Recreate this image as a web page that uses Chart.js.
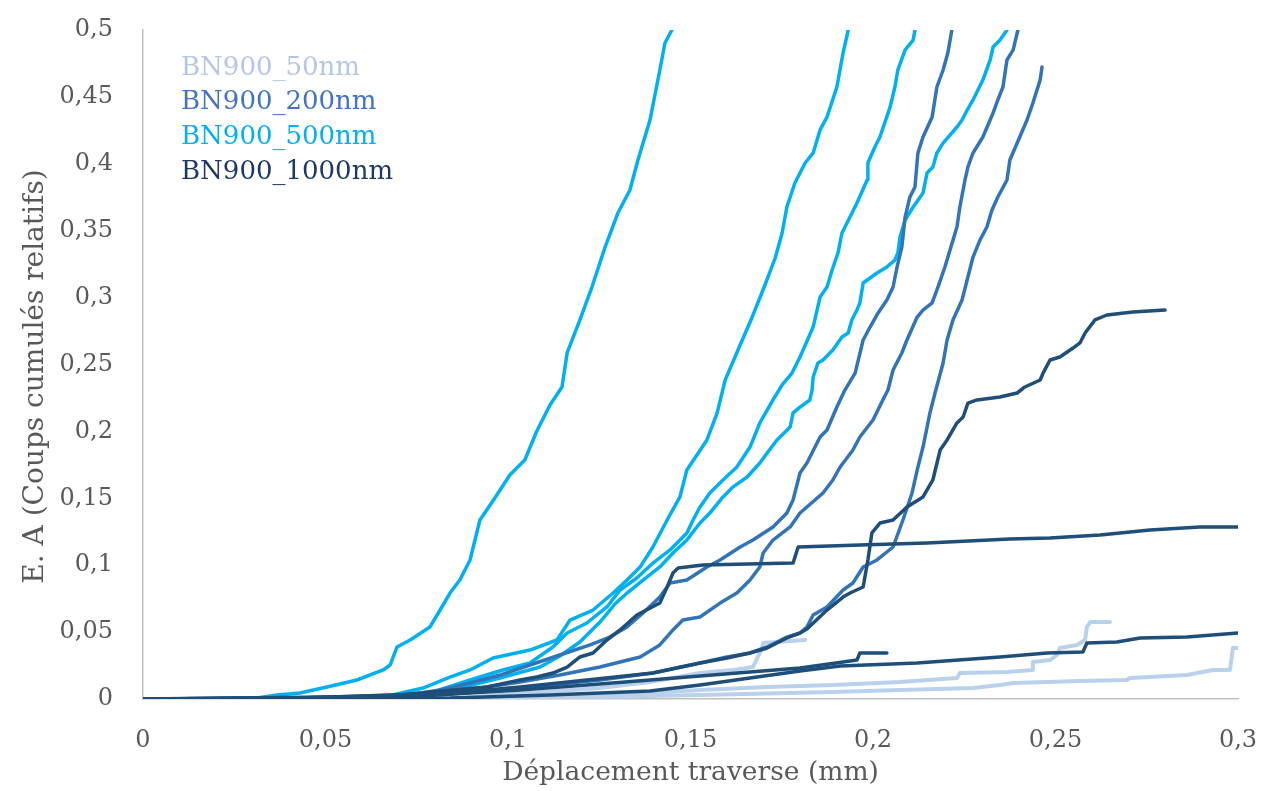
<!DOCTYPE html>
<html><head><meta charset="utf-8">
<script src="https://cdn.jsdelivr.net/npm/chart.js@4.4.1/dist/chart.umd.min.js"></script>
<style>html,body{margin:0;padding:0;background:#fff;}canvas{display:block;}</style>
</head><body>
<canvas id="c" width="1284" height="791"></canvas>
<script>
// ---- Series names & colours ----
const seriesNames = ['BN900_50nm', 'BN900_200nm', 'BN900_500nm', 'BN900_1000nm'];
const seriesColors = ['#bad1ec', '#3174b7', '#00b0f0', '#1f4e79'];
const legendColors = ['#b4c7e7', '#4472c4', '#00b0f0', '#1f3864'];
const xTitle = 'Déplacement traverse (mm)';
const yTitle = 'E. A (Coups cumulés relatifs)';

// ---- Tick labels ----
const xTickValues = [0, 0.05, 0.1, 0.15, 0.2, 0.25, 0.3];
const xTickLabels = ['0', '0,05', '0,1', '0,15', '0,2', '0,25', '0,3'];
const yTickValues = [0, 0.05, 0.1, 0.15, 0.2, 0.25, 0.3, 0.35, 0.4, 0.45, 0.5];
const yTickLabels = ['0', '0,05', '0,1', '0,15', '0,2', '0,25', '0,3', '0,35', '0,4', '0,45', '0,5'];

// ---- BN900_50nm (3 tests) ----
const nm50_a_x = [0, 0.0978, 0.1252, 0.1526, 0.1710, 0.1890, 0.2074, 0.2230, 0.2238, 0.2367, 0.2436, 0.2438, 0.2485, 0.2504, 0.2512, 0.2559, 0.2581, 0.2586, 0.2595, 0.2649];
const nm50_a_y = [0, 0.0007, 0.0022, 0.0067, 0.0090, 0.0105, 0.0127, 0.0157, 0.0194, 0.0202, 0.0217, 0.0277, 0.0291, 0.0329, 0.0381, 0.0404, 0.0441, 0.0538, 0.0575, 0.0575];
const nm50_b_x = [0, 0.0978, 0.1252, 0.1526, 0.1890, 0.2074, 0.2274, 0.2348, 0.2384, 0.2567, 0.2696, 0.2704, 0.2860, 0.2932, 0.2978, 0.2986, 0.3];
const nm50_b_y = [0, 0, 0.0015, 0.0030, 0.0052, 0.0067, 0.0082, 0.0105, 0.0120, 0.0135, 0.0142, 0.0157, 0.0179, 0.0217, 0.0217, 0.0381, 0.0381];
const nm50_c_x = [0, 0.0841, 0.0978, 0.1252, 0.1389, 0.1526, 0.1616, 0.1671, 0.1696, 0.1699, 0.1814];
const nm50_c_y = [0, 0, 0.0030, 0.0082, 0.0127, 0.0194, 0.0217, 0.0239, 0.0381, 0.0419, 0.0441];

// ---- BN900_200nm (3 tests) ----
const nm200_a_x = [0, 0.0430, 0.0704, 0.0814, 0.0896, 0.0978, 0.1060, 0.1142, 0.1225, 0.1279, 0.1326, 0.1370, 0.1416, 0.1444, 0.1490, 0.1545, 0.1581, 0.1636, 0.1671, 0.1726, 0.1764, 0.1781, 0.1800, 0.1819, 0.1855, 0.1874, 0.1901, 0.1923, 0.1951, 0.1973, 0.1992, 0.2014, 0.2038, 0.2055, 0.2066, 0.2079, 0.2088, 0.2101, 0.2115, 0.2123, 0.2137, 0.2162, 0.2175, 0.2192, 0.2205, 0.2216];
const nm200_a_y = [0, 0, 0.0022, 0.0067, 0.0120, 0.0179, 0.0254, 0.0329, 0.0404, 0.0463, 0.0538, 0.0643, 0.0762, 0.0867, 0.0889, 0.0987, 0.1039, 0.1136, 0.1188, 0.1286, 0.1390, 0.1487, 0.1689, 0.1764, 0.1958, 0.2010, 0.2182, 0.2309, 0.2436, 0.2683, 0.2780, 0.2885, 0.2982, 0.3079, 0.3229, 0.3378, 0.3602, 0.3752, 0.3827, 0.4081, 0.4200, 0.4350, 0.4574, 0.4701, 0.4828, 0.5];
const nm200_b_x = [0, 0.0704, 0.0814, 0.0923, 0.1033, 0.1142, 0.1252, 0.1362, 0.1416, 0.1452, 0.1479, 0.1526, 0.1581, 0.1627, 0.1663, 0.1690, 0.1699, 0.1726, 0.1773, 0.1800, 0.1863, 0.1890, 0.1910, 0.1945, 0.1964, 0.2, 0.2027, 0.2041, 0.2055, 0.2079, 0.2093, 0.2121, 0.2137, 0.2162, 0.2178, 0.2197, 0.2211, 0.2230, 0.2238, 0.2252, 0.2260, 0.2274, 0.2301, 0.2329, 0.2342, 0.2356, 0.2367, 0.2384, 0.2397];
const nm200_b_y = [0, 0.0015, 0.0045, 0.0082, 0.0127, 0.0179, 0.0239, 0.0314, 0.0404, 0.0516, 0.0590, 0.0613, 0.0717, 0.0792, 0.0889, 0.0987, 0.1091, 0.1188, 0.1286, 0.1390, 0.1540, 0.1637, 0.1734, 0.1861, 0.1958, 0.2085, 0.2235, 0.2309, 0.2459, 0.2586, 0.2683, 0.2855, 0.2907, 0.2960, 0.3079, 0.3229, 0.3356, 0.3528, 0.3677, 0.3879, 0.3976, 0.4081, 0.4200, 0.4380, 0.4477, 0.4574, 0.4776, 0.4851, 0.5];
const nm200_c_x = [0, 0.0430, 0.0704, 0.0841, 0.0978, 0.1115, 0.1252, 0.1397, 0.1526, 0.1600, 0.1663, 0.1710, 0.1764, 0.1800, 0.1819, 0.1836, 0.1874, 0.1918, 0.1945, 0.1973, 0.2011, 0.2055, 0.2082, 0.2107, 0.2121, 0.2137, 0.2156, 0.2170, 0.2192, 0.2203, 0.2219, 0.2244, 0.2260, 0.2274, 0.2293, 0.2312, 0.2326, 0.2342, 0.2367, 0.2375, 0.2395, 0.2422, 0.2438, 0.2458, 0.2463];
const nm200_c_y = [0, 0, 0.0015, 0.0037, 0.0067, 0.0105, 0.0142, 0.0194, 0.0269, 0.0314, 0.0344, 0.0389, 0.0463, 0.0493, 0.0538, 0.0628, 0.0688, 0.0815, 0.0867, 0.0987, 0.1039, 0.1136, 0.1338, 0.1540, 0.1711, 0.1883, 0.2138, 0.2287, 0.2511, 0.2683, 0.2833, 0.2982, 0.3154, 0.3303, 0.3430, 0.3528, 0.3655, 0.3752, 0.3879, 0.4028, 0.4155, 0.4327, 0.4454, 0.4626, 0.4723];

// ---- BN900_500nm (4 tests) ----
const nm500_a_x = [0, 0.0293, 0.0367, 0.0430, 0.0504, 0.0586, 0.0658, 0.0677, 0.0696, 0.0732, 0.0786, 0.0814, 0.0841, 0.0868, 0.0896, 0.0923, 0.0964, 0.1005, 0.1046, 0.1079, 0.1115, 0.1148, 0.1162, 0.1197, 0.1230, 0.1266, 0.1301, 0.1334, 0.1356, 0.1389, 0.1416, 0.1430, 0.1449];
const nm500_a_y = [0, 0, 0.0030, 0.0045, 0.0090, 0.0142, 0.0217, 0.0254, 0.0389, 0.0441, 0.0538, 0.0665, 0.0792, 0.0889, 0.1039, 0.1338, 0.1502, 0.1674, 0.1786, 0.2003, 0.2197, 0.2332, 0.2586, 0.2833, 0.3079, 0.3378, 0.3632, 0.3804, 0.4028, 0.4327, 0.4701, 0.4903, 0.5];
const nm500_b_x = [0, 0.0649, 0.0767, 0.0841, 0.0896, 0.0959, 0.1060, 0.1134, 0.1170, 0.1233, 0.1288, 0.1326, 0.1362, 0.1397, 0.1436, 0.1471, 0.1490, 0.1545, 0.1573, 0.1595, 0.1636, 0.1668, 0.1704, 0.1732, 0.1751, 0.1764, 0.1786, 0.1814, 0.1836, 0.1855, 0.1874, 0.1901, 0.1918, 0.1932];
const nm500_b_y = [0, 0.0007, 0.0082, 0.0164, 0.0217, 0.0306, 0.0366, 0.0441, 0.0590, 0.0665, 0.0792, 0.0889, 0.0987, 0.1136, 0.1338, 0.1510, 0.1712, 0.1936, 0.2138, 0.2384, 0.2646, 0.2848, 0.3094, 0.3296, 0.3483, 0.3677, 0.3857, 0.4006, 0.4081, 0.4253, 0.4350, 0.4574, 0.4828, 0.5];
const nm500_c_x = [0, 0.0704, 0.0759, 0.0896, 0.0986, 0.1060, 0.1123, 0.1162, 0.1216, 0.1271, 0.1307, 0.1353, 0.1397, 0.1444, 0.1490, 0.1507, 0.1526, 0.1553, 0.1589, 0.1627, 0.1663, 0.1690, 0.1726, 0.1751, 0.1778, 0.1800, 0.1836, 0.1855, 0.1874, 0.1888, 0.1904, 0.1915, 0.1937, 0.1956, 0.1984, 0.1986, 0.2005, 0.2019, 0.2047, 0.2060, 0.2068, 0.2088, 0.2110, 0.2115];
const nm500_c_y = [0, 0.0007, 0.0022, 0.0142, 0.0217, 0.0269, 0.0389, 0.0493, 0.0568, 0.0688, 0.0815, 0.0904, 0.1016, 0.1114, 0.1241, 0.1338, 0.1435, 0.1540, 0.1637, 0.1734, 0.1883, 0.2063, 0.2235, 0.2347, 0.2436, 0.2556, 0.2780, 0.3004, 0.3079, 0.3206, 0.3333, 0.3483, 0.3602, 0.3707, 0.3879, 0.4006, 0.4126, 0.4200, 0.4425, 0.4574, 0.4701, 0.4851, 0.4925, 0.5];
const nm500_d_x = [0, 0.0704, 0.0786, 0.0868, 0.0978, 0.1088, 0.1142, 0.1197, 0.1252, 0.1293, 0.1326, 0.1370, 0.1416, 0.1452, 0.1490, 0.1526, 0.1553, 0.1589, 0.1616, 0.1655, 0.1690, 0.1710, 0.1737, 0.1773, 0.1781, 0.1800, 0.1827, 0.1833, 0.1836, 0.1849, 0.1863, 0.1890, 0.1915, 0.1932, 0.1942, 0.1956, 0.1964, 0.1973, 0.2011, 0.2038, 0.2060, 0.2068, 0.2074, 0.2088, 0.2110, 0.2137, 0.2148, 0.2164, 0.2175, 0.2192, 0.2230, 0.2244, 0.2258, 0.2274, 0.2301, 0.2321, 0.2329, 0.2348, 0.2367];
const nm500_d_y = [0, 0.0007, 0.0022, 0.0082, 0.0157, 0.0239, 0.0321, 0.0426, 0.0575, 0.0710, 0.0792, 0.0889, 0.0987, 0.1091, 0.1188, 0.1315, 0.1390, 0.1510, 0.1584, 0.1659, 0.1764, 0.1839, 0.1936, 0.2033, 0.2138, 0.2182, 0.2235, 0.2309, 0.2407, 0.2511, 0.2534, 0.2608, 0.2706, 0.2735, 0.2833, 0.2907, 0.2960, 0.3109, 0.3184, 0.3229, 0.3281, 0.3333, 0.3453, 0.3580, 0.3677, 0.3782, 0.3931, 0.3976, 0.4081, 0.4155, 0.4275, 0.4327, 0.4402, 0.4477, 0.4626, 0.4776, 0.4873, 0.4925, 0.5];

// ---- BN900_1000nm (4 tests) ----
const nm1000_a_x = [0, 0.0430, 0.0849, 0.1033, 0.1216, 0.1397, 0.1526, 0.1600, 0.1663, 0.1710, 0.1764, 0.1800, 0.1819, 0.1874, 0.1918, 0.1937, 0.1973, 0.1986, 0.1997, 0.2019, 0.2055, 0.2093, 0.2137, 0.2164, 0.2184, 0.2203, 0.2230, 0.2247, 0.2260, 0.2285, 0.2348, 0.2395, 0.2416, 0.2458, 0.2466, 0.2485, 0.2512, 0.2548, 0.2567, 0.2581, 0.2608, 0.2641, 0.2712, 0.2800];
const nm1000_a_y = [0, 0.0007, 0.0045, 0.0090, 0.0142, 0.0194, 0.0269, 0.0306, 0.0344, 0.0381, 0.0456, 0.0493, 0.0523, 0.0665, 0.0762, 0.0792, 0.0837, 0.1039, 0.1241, 0.1315, 0.1338, 0.1435, 0.1510, 0.1637, 0.1861, 0.1936, 0.2063, 0.2108, 0.2212, 0.2235, 0.2257, 0.2287, 0.2332, 0.2384, 0.2436, 0.2534, 0.2556, 0.2623, 0.2661, 0.2735, 0.2833, 0.2870, 0.2892, 0.2907];
const nm1000_b_x = [0, 0.0430, 0.0704, 0.0849, 0.0942, 0.1033, 0.1079, 0.1123, 0.1162, 0.1197, 0.1233, 0.1271, 0.1307, 0.1353, 0.1416, 0.1436, 0.1452, 0.1466, 0.1534, 0.1781, 0.1795, 0.1964, 0.2148, 0.2375, 0.2485, 0.2622, 0.2759, 0.2896, 0.3];
const nm1000_b_y = [0, 0.0007, 0.0030, 0.0067, 0.0090, 0.0142, 0.0164, 0.0194, 0.0239, 0.0314, 0.0344, 0.0441, 0.0516, 0.0628, 0.0717, 0.0837, 0.0942, 0.0979, 0.1001, 0.1016, 0.1136, 0.1151, 0.1166, 0.1196, 0.1203, 0.1226, 0.1263, 0.1286, 0.1286];
const nm1000_c_x = [0, 0.0759, 0.1033, 0.1252, 0.1526, 0.1663, 0.1800, 0.1918, 0.1956, 0.1964, 0.2038];
const nm1000_c_y = [0, 0.0022, 0.0067, 0.0112, 0.0172, 0.0202, 0.0232, 0.0277, 0.0291, 0.0344, 0.0344];
const nm1000_d_x = [0, 0.0841, 0.1115, 0.1389, 0.1526, 0.1663, 0.1800, 0.1910, 0.2121, 0.2348, 0.2477, 0.2575, 0.2586, 0.2668, 0.2732, 0.2860, 0.3];
const nm1000_d_y = [0, 0.0007, 0.0030, 0.0060, 0.0105, 0.0157, 0.0209, 0.0247, 0.0269, 0.0314, 0.0344, 0.0351, 0.0419, 0.0426, 0.0456, 0.0463, 0.0493];

// ---- assemble ----
const curves = [
  [0, nm50_a_x, nm50_a_y], [0, nm50_b_x, nm50_b_y], [0, nm50_c_x, nm50_c_y],
  [1, nm200_a_x, nm200_a_y], [1, nm200_b_x, nm200_b_y], [1, nm200_c_x, nm200_c_y],
  [2, nm500_a_x, nm500_a_y], [2, nm500_b_x, nm500_b_y], [2, nm500_c_x, nm500_c_y], [2, nm500_d_x, nm500_d_y],
  [3, nm1000_a_x, nm1000_a_y], [3, nm1000_b_x, nm1000_b_y], [3, nm1000_c_x, nm1000_c_y], [3, nm1000_d_x, nm1000_d_y]
];
const drawOrder = [4, 2, 3, 1];
const datasets = curves.map(([s, xs, ys]) => ({
  label: seriesNames[s],
  data: xs.map((x, i) => ({x: x, y: ys[i]})),
  borderColor: seriesColors[s],
  backgroundColor: seriesColors[s],
  borderWidth: s === 0 ? 4 : 3.5,
  pointRadius: 0,
  tension: 0,
  fill: false,
  borderJoinStyle: 'round',
  borderCapStyle: 'round',
  order: drawOrder[s]
}));

const FONT = "'DejaVu Serif', serif";
const TXT = '#595959';

const textPlugin = {
  id: 'textLegend',
  afterDraw(chart) {
    const ctx = chart.ctx, a = chart.chartArea;
    ctx.save();
    ctx.font = "26px " + FONT;
    ctx.textAlign = 'left';
    ctx.textBaseline = 'middle';
    seriesNames.forEach((n, i) => {
      ctx.fillStyle = legendColors[i];
      ctx.fillText(n, a.left + 38, a.top + 38 + i * 34.7);
    });
    // y axis title
    ctx.translate(36, (a.top + a.bottom) / 2 + 12);
    ctx.rotate(-Math.PI / 2);
    ctx.font = "28px " + FONT;
    ctx.fillStyle = TXT;
    ctx.textAlign = 'center';
    ctx.fillText(yTitle, 0, 0);
    ctx.restore();
  }
};

new Chart(document.getElementById('c'), {
  type: 'line',
  data: {datasets: datasets},
  options: {
    responsive: false,
    animation: false,
    devicePixelRatio: 1,
    layout: {padding: {left: 0, top: 30, right: 46, bottom: 0}},
    plugins: {legend: {display: false}, tooltip: {enabled: false}},
    scales: {
      x: {
        type: 'linear', min: 0, max: 0.3,
        afterFit(s) { s.height = 92; s.paddingLeft = 0; s.paddingRight = 0; },
        afterBuildTicks(s) { s.ticks = xTickValues.map(v => ({value: v})); },
        grid: {display: false, drawTicks: false},
        border: {display: true, color: '#bfbfbf', width: 1.5},
        ticks: {
          padding: 27, color: TXT, font: {family: FONT, size: 24},
          callback: (v, i) => xTickLabels[i]
        },
        title: {display: true, text: xTitle, color: TXT,
          font: {family: FONT, size: 26.5}, padding: {top: 0, bottom: 2}}
      },
      y: {
        type: 'linear', min: 0, max: 0.5,
        afterFit(s) { s.width = 143; s.paddingTop = 0; s.paddingBottom = 0; },
        afterBuildTicks(s) { s.ticks = yTickValues.map(v => ({value: v})); },
        grid: {display: false, drawTicks: false},
        border: {display: true, color: '#bfbfbf', width: 1.5},
        ticks: {
          padding: 30, color: TXT, font: {family: FONT, size: 24},
          callback: (v, i) => yTickLabels[i]
        },
        title: {display: false}
      }
    }
  },
  plugins: [textPlugin]
});
</script>
</body></html>
